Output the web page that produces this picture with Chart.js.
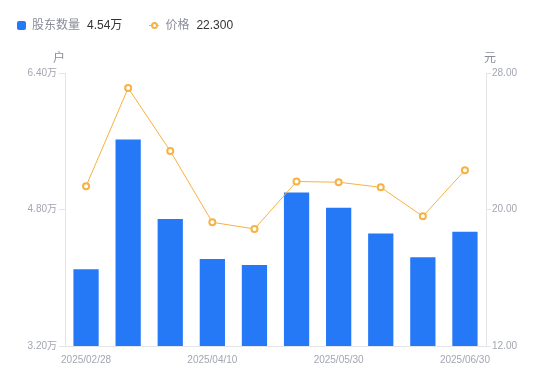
<!DOCTYPE html>
<html lang="zh">

<head>
    <meta charset="UTF-8">
    <script src="https://cdn.jsdelivr.net/npm/chart.js"></script>
    <title>股东数量</title>
</head>

<style>
    body {
        margin: 0;
        font-family: "Liberation Sans", "Noto Sans CJK SC", sans-serif;
    }

    .wrap {
        position: relative;
        width: 550px;
        height: 381px;
    }

    .legend {
        position: absolute;
        left: 17px;
        top: 17px;
        font-size: 12px;
        display: flex;
        align-items: center;
        line-height: 16px;
    }

    .legend .name {
        color: #8a8d99;
        margin-left: 6px;
    }

    .legend .val {
        color: #333;
        margin-left: 7px;
    }

    .sq {
        width: 9px;
        height: 9px;
        border-radius: 2px;
        background: #2679f6;
    }

    .mk {
        position: relative;
        width: 10px;
        height: 9px;
        margin-left: 27px;
    }

    .mk::before {
        content: '';
        position: absolute;
        left: 0;
        right: 0;
        top: 4px;
        height: 1px;
        background: #f8b143;
    }

    .mk::after {
        content: '';
        position: absolute;
        left: 2px;
        top: 1px;
        width: 3px;
        height: 3px;
        border: 2px solid #f8b143;
        border-radius: 50%;
        background: #fff;
    }
</style>

<body>
<div class="wrap">
    <div class="legend">
        <span class="sq"></span><span class="name">股东数量</span><span class="val">4.54万</span>
        <span class="mk"></span><span class="name">价格</span><span class="val">22.300</span>
    </div>
    <canvas id="holders" width="550" height="381"></canvas>
</div>

<script>
    const dates = ['2025/02/28', '2025/03/10', '2025/03/20', '2025/04/10', '2025/04/20',
        '2025/04/30', '2025/05/30', '2025/06/10', '2025/06/20', '2025/06/30'];
    // 股东数量 (万户)
    const holders = [4.10, 5.62, 4.69, 4.22, 4.15, 5.00, 4.82, 4.52, 4.24, 4.54];
    // 价格 (元)
    const prices = [21.36, 27.12, 23.43, 19.25, 18.86, 21.64, 21.60, 21.30, 19.60, 22.30];

    const tickColor = '#a3a6b2';
    const axisColor = '#e4e5e8';

    // unit labels above both y axes
    const unitTitles = {
        id: 'unitTitles',
        afterDraw(chart) {
            const c = chart.ctx;
            c.save();
            c.font = '12px "Liberation Sans", "Noto Sans CJK SC"';
            c.fillStyle = '#8a8d99';
            c.textBaseline = 'middle';
            c.textAlign = 'center';
            c.fillText('户', chart.scales.y.right - 6, 59);
            c.fillText('元', chart.scales.y1.left + 4, 59);
            c.restore();
        }
    };

    new Chart(document.getElementById('holders'), {
        data: {
            labels: dates,
            datasets: [{
                type: 'line',
                label: '价格',
                data: prices,
                yAxisID: 'y1',
                borderColor: '#f8b143',
                borderWidth: 1,
                pointRadius: 3,
                pointBorderWidth: 2,
                pointBackgroundColor: '#fff',
                pointBorderColor: '#f8b143',
                tension: 0,
                order: 1
            }, {
                type: 'bar',
                label: '股东数量',
                data: holders,
                yAxisID: 'y',
                backgroundColor: '#2679f6',
                barPercentage: 0.6,
                categoryPercentage: 1,
                order: 2
            }]
        },
        options: {
            responsive: false,
            animation: false,
            layout: {
                padding: { top: 73, left: 0, right: 0, bottom: 0 }
            },
            plugins: {
                legend: { display: false },
                tooltip: { enabled: false }
            },
            scales: {
                x: {
                    grid: { display: false },
                    border: { color: axisColor },
                    afterFit: (s) => { s.height = 35; },
                    ticks: {
                        autoSkip: false,
                        maxRotation: 0,
                        color: tickColor,
                        font: { size: 10, family: '"Liberation Sans", "Noto Sans CJK SC"' },
                        padding: 0,
                        callback: function (v, i) {
                            return i % 3 === 0 ? dates[i] : '';
                        }
                    }
                },
                y: {
                    position: 'left',
                    min: 3.2,
                    max: 6.4,
                    afterFit: (s) => { s.width = 65; },
                    grid: { drawOnChartArea: false, color: axisColor, tickLength: 6 },
                    border: { color: axisColor },
                    ticks: {
                        stepSize: 1.6,
                        color: tickColor,
                        padding: 2,
                        font: { size: 10, family: '"Liberation Sans", "Noto Sans CJK SC"' },
                        callback: (v) => v.toFixed(2) + '万'
                    }
                },
                y1: {
                    position: 'right',
                    min: 12,
                    max: 28,
                    afterFit: (s) => { s.width = 64; },
                    grid: { drawOnChartArea: false, color: axisColor, tickLength: 5 },
                    border: { color: axisColor },
                    ticks: {
                        stepSize: 8,
                        color: tickColor,
                        padding: 1,
                        font: { size: 10, family: '"Liberation Sans", "Noto Sans CJK SC"' },
                        callback: (v) => v.toFixed(2)
                    }
                }
            }
        },
        plugins: [unitTitles]
    });
</script>
</body>

</html>
